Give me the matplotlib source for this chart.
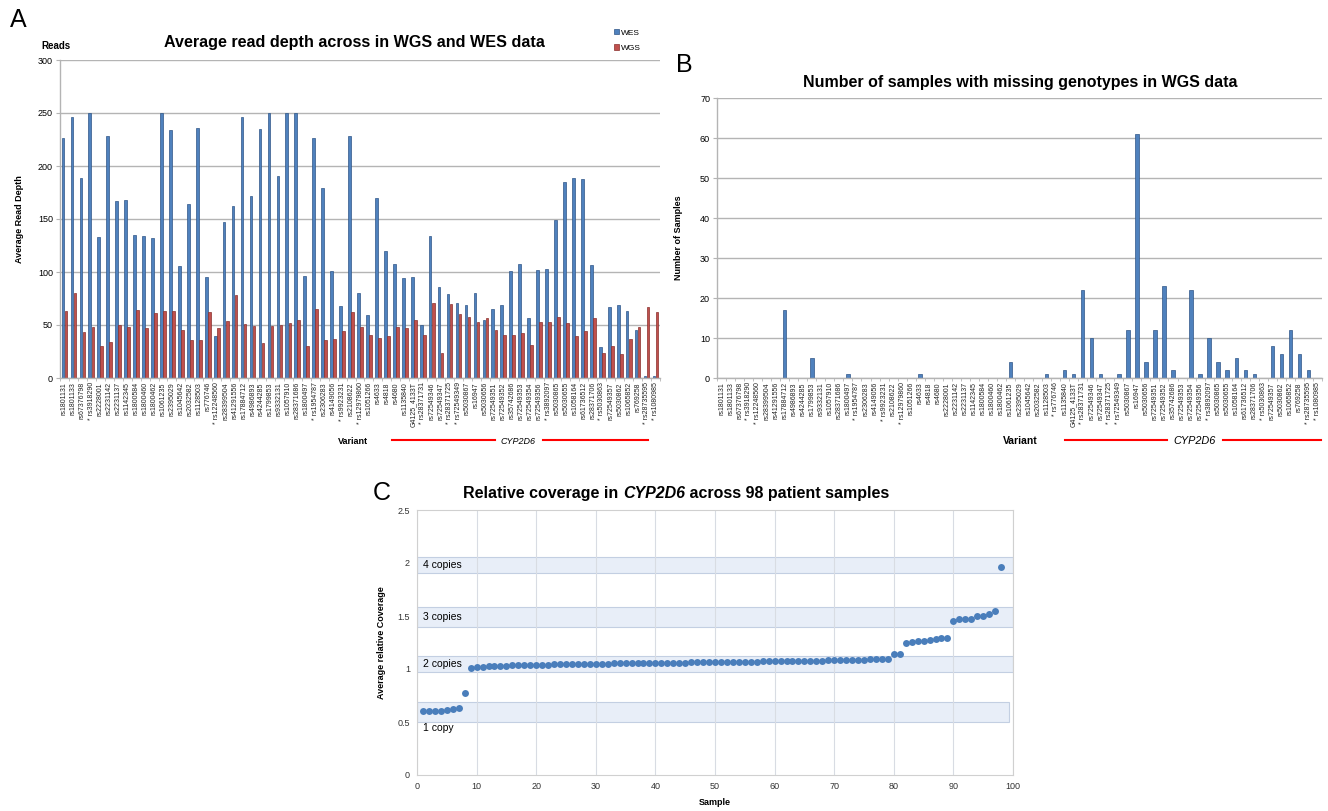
import matplotlib.pyplot as plt
from matplotlib.lines import Line2D
import numpy as np

plt.rcParams['font.family'] = ['Liberation Sans', 'DejaVu Sans']

# ---------------- Datos ----------------
# Panel A: profundidad media de lectura por variante
variantes_a = ["rs1801131", "rs1801133", "rs67376798", "* rs3918290", "rs2228001", "rs2231142",
               "rs2231137", "rs1142345", "rs1800584", "rs1800460", "rs1800462", "rs1061235",
               "rs2395029", "rs1045642", "rs2032582", "rs1128503", "rs776746", "* rs12248560",
               "rs28399504", "rs41291556", "rs17884712", "rs4986893", "rs4244285", "rs1799853",
               "rs9332131", "rs1057910", "rs28371686", "rs1800497", "* rs1954787", "rs2306283",
               "rs4149056", "* rs9923231", "rs2108622", "* rs12979860", "rs1051266", "rs4633",
               "rs4818", "rs4680", "rs1135840", "G4125_4133T", "* rs28371731", "rs72549346",
               "rs72549347", "* rs28371725", "* rs72549349", "rs5030867", "rs16947", "rs5030656",
               "rs72549351", "rs72549352", "rs35742686", "rs72549353", "rs72549354", "rs72549356",
               "* rs3892097", "rs5030865", "rs5030655", "rs1058164", "rs61736512", "rs28371706",
               "* rs5030863", "rs72549357", "rs5030862", "rs1065852", "rs769258", "* rs28735595",
               "* rs1080985"]
wes = [226, 246, 189, 250, 133, 228, 167, 168, 135, 134, 132, 250, 234, 106, 164, 236, 95, 40,
       147, 162, 246, 172, 235, 250, 191, 250, 250, 96, 226, 179, 101, 68, 228, 80, 59, 170,
       120, 108, 94, 95, 50, 134, 86, 79, 71, 69, 80, 55, 65, 69, 101, 108, 57, 102, 103, 149,
       185, 189, 188, 107, 29, 67, 69, 63, 45, 2, 1.5]
wgs = [63, 80, 43, 48, 30, 34, 50, 48, 64, 47, 61, 63, 63, 45, 36, 36, 62, 47, 54, 78, 51, 49,
       33, 49, 50, 52, 55, 30, 65, 36, 37, 44, 62, 48, 41, 38, 40, 48, 47, 55, 41, 71, 24, 70,
       60, 58, 53, 57, 45, 41, 41, 42, 31, 53, 53, 58, 52, 40, 44, 57, 24, 30, 23, 37, 48, 67, 62]

# Panel B: muestras con genotipo faltante en WGS
variantes_b = ["rs1801131", "rs1801133", "rs67376798", "* rs3918290", "* rs12248560", "rs28399504",
               "rs41291556", "rs17884712", "rs4986893", "rs4244285", "rs1799853", "rs9332131",
               "rs1057910", "rs28371686", "rs1800497", "* rs1954787", "rs2306283", "rs4149056",
               "* rs9923231", "rs2108622", "* rs12979860", "rs1051266", "rs4633", "rs4818", "rs4680",
               "rs2228001", "rs2231142", "rs2231137", "rs1142345", "rs1800584", "rs1800460",
               "rs1800462", "rs1061235", "rs2395029", "rs1045642", "rs2032582", "rs1128503",
               "* rs776746", "rs1135840", "G4125_4133T", "* rs28371731", "rs72549346", "rs72549347",
               "* rs28371725", "* rs72549349", "rs5030867", "rs16947", "rs5030656", "rs72549351",
               "rs72549352", "rs35742686", "rs72549353", "rs72549354", "rs72549356", "* rs3892097",
               "rs5030865", "rs5030655", "rs1058164", "rs61736512", "rs28371706", "* rs5030863",
               "rs72549357", "rs5030862", "rs1065852", "rs769258", "* rs28735595", "* rs1080985"]
faltantes = [0, 0, 0, 0, 0, 0, 0, 17, 0, 0, 5, 0, 0, 0, 1, 0, 0, 0, 0, 0, 0, 0, 1, 0, 0,
             0, 0, 0, 0, 0, 0, 0, 4, 0, 0, 0, 1, 0, 2, 1, 22, 10, 1, 0, 1, 12, 61, 4, 12,
             23, 2, 0, 22, 1, 10, 4, 2, 5, 2, 1, 0, 8, 6, 12, 6, 2, 0]

# Panel C: cobertura relativa de CYP2D6 en 98 pacientes
muestras = list(range(1, 99))
cobertura = [0.600, 0.601, 0.604, 0.607, 0.610, 0.620, 0.633, 0.777,
             1.013, 1.020, 1.022, 1.025, 1.028, 1.030, 1.033, 1.035, 1.036, 1.038,
             1.040, 1.040, 1.041, 1.042, 1.043, 1.044, 1.045, 1.046, 1.047, 1.048,
             1.049, 1.050, 1.050, 1.051, 1.052, 1.052, 1.053, 1.054, 1.055, 1.056,
             1.056, 1.057, 1.058, 1.058, 1.059, 1.060, 1.061, 1.062, 1.063, 1.064,
             1.064, 1.065, 1.066, 1.066, 1.067, 1.068, 1.068, 1.069, 1.070, 1.071,
             1.072, 1.072, 1.073, 1.074, 1.075, 1.076, 1.077, 1.078, 1.079, 1.080,
             1.081, 1.082, 1.083, 1.084, 1.085, 1.086, 1.088, 1.090, 1.092, 1.094,
             1.095, 1.138, 1.140,
             1.242, 1.258, 1.264, 1.267, 1.274, 1.283, 1.289, 1.289,
             1.456, 1.469, 1.472, 1.472, 1.503, 1.503, 1.522, 1.550,
             1.959]
bandas = [("4 copies", 1.909, 2.06), ("3 copies", 1.399, 1.588),
          ("2 copies", 0.975, 1.126), ("1 copy", 0.503, 0.686)]

AZUL = '#4F81BD'
AZUL_BORDE = '#2f5687'
ROJO = '#C0504D'
ROJO_BORDE = '#8a2f2c'
GRIS = '#b4b4b4'

W, H = 1328, 811
fig = plt.figure(figsize=(W / 100, H / 100), dpi=100)


def fx(px):
    return px / W


def fy(py):
    return 1 - py / H


def estilo_barras(ax, n, etiquetas):
    ax.set_xlim(-0.5, n - 0.5)
    ax.set_xticks(range(n))
    ax.set_xticklabels(etiquetas, rotation=90, fontsize=5, color='#222222')
    ax.set_xticks(np.arange(-0.5, n, 1), minor=True)
    ax.tick_params(axis='x', which='major', length=0, pad=3)
    ax.tick_params(axis='x', which='minor', length=2.5, color=GRIS)
    ax.tick_params(axis='y', length=3, color=GRIS, labelsize=6.5, pad=2)
    ax.yaxis.grid(True, color=GRIS, lw=1)
    ax.set_axisbelow(True)
    for s in ['top', 'right']:
        ax.spines[s].set_visible(False)
    for s in ['left', 'bottom']:
        ax.spines[s].set_color(GRIS)
        ax.spines[s].set_linewidth(1)


# ---------------- Panel A ----------------
axA = fig.add_axes([fx(60), fy(378), fx(600), (378 - 60) / H])
x = np.arange(len(variantes_a))
axA.bar(x - 0.17, wes, width=0.3, color=AZUL, edgecolor=AZUL_BORDE, lw=0.5, label='WES')
axA.bar(x + 0.17, wgs, width=0.3, color=ROJO, edgecolor=ROJO_BORDE, lw=0.5, label='WGS')
estilo_barras(axA, len(variantes_a), variantes_a)
axA.set_ylim(0, 300)
axA.set_yticks(range(0, 301, 50))
axA.set_ylabel('Average Read Depth', fontsize=6.5, fontweight='bold', labelpad=10)
axA.legend(loc='upper left', bbox_to_anchor=(fx(610), fy(25)), bbox_transform=fig.transFigure,
           frameon=False, fontsize=6, handlelength=0.6, handleheight=0.6, handletextpad=0.2,
           labelspacing=0.9, borderpad=0)
fig.text(fx(56), fy(46), 'Reads', fontsize=7, fontweight='bold', ha='center', va='center')
fig.text(fx(354), fy(42), 'Average read depth across in WGS and WES data', fontsize=11.6,
         fontweight='bold', ha='center', va='center')
fig.text(fx(18), fy(20), 'A', fontsize=18, ha='center', va='center')
fig.text(fx(353), fy(441), 'Variant', fontsize=6.5, fontweight='bold', ha='center', va='center')
fig.text(fx(518), fy(441), 'CYP2D6', fontsize=6.5, style='italic', ha='center', va='center')
fig.add_artist(Line2D([fx(392), fx(495)], [fy(440), fy(440)], color='red', lw=1.5))
fig.add_artist(Line2D([fx(543), fx(648)], [fy(440), fy(440)], color='red', lw=1.5))

# ---------------- Panel B ----------------
axB = fig.add_axes([fx(717), fy(378), fx(605), (378 - 98) / H])
xb = np.arange(len(variantes_b))
axB.bar(xb, faltantes, width=0.38, color=AZUL, edgecolor=AZUL_BORDE, lw=0.5)
estilo_barras(axB, len(variantes_b), variantes_b)
axB.set_ylim(0, 70)
axB.set_yticks(range(0, 71, 10))
axB.set_ylabel('Number of Samples', fontsize=6.5, fontweight='bold', labelpad=12)
fig.text(fx(1020), fy(83), 'Number of samples with missing genotypes in WGS data', fontsize=11.5,
         fontweight='bold', ha='center', va='center')
fig.text(fx(684), fy(65), 'B', fontsize=18, ha='center', va='center')
fig.text(fx(1020), fy(441), 'Variant', fontsize=7.5, fontweight='bold', ha='center', va='center')
fig.text(fx(1195), fy(441), 'CYP2D6', fontsize=7.8, style='italic', ha='center', va='center')
fig.add_artist(Line2D([fx(1065), fx(1167)], [fy(440), fy(440)], color='red', lw=1.5))
fig.add_artist(Line2D([fx(1223), fx(1321)], [fy(440), fy(440)], color='red', lw=1.5))

# ---------------- Panel C ----------------
axC = fig.add_axes([fx(417), fy(775), fx(596), (775 - 510) / H])
for nombre, lo, hi in bandas:
    xmax = 0.993 if nombre == '1 copy' else 1.0
    axC.axhspan(lo, hi, xmin=0, xmax=xmax, facecolor='#e8eef8', edgecolor='#c3cfe2', lw=0.8, zorder=1)
    if nombre == '1 copy':
        axC.text(1, lo - 0.06, nombre, fontsize=7.5, va='center', ha='left', zorder=4)
    else:
        axC.text(1, (lo + hi) / 2, nombre, fontsize=7.5, va='center', ha='left', zorder=4)
axC.plot(muestras, cobertura, 'o', color='#4a7ebb', markersize=5, markeredgewidth=0, zorder=3)
axC.set_xlim(0, 100)
axC.set_ylim(0, 2.5)
axC.set_xticks(range(0, 101, 10))
axC.set_yticks([0, 0.5, 1, 1.5, 2, 2.5])
axC.set_yticklabels(['0', '0.5', '1', '1.5', '2', '2.5'])
axC.xaxis.grid(True, color='#d8dce3', lw=0.8, zorder=0)
axC.tick_params(length=0, labelsize=6.5, pad=5, colors='#333333')
for s in axC.spines.values():
    s.set_color('#d0d0d0')
axC.set_xlabel('Sample', fontsize=6.5, fontweight='bold', labelpad=5)
axC.set_ylabel('Average relative Coverage', fontsize=6.5, fontweight='bold', labelpad=8)
fig.text(fx(382), fy(493), 'C', fontsize=18, ha='center', va='center')

# Titulo con parte en cursiva
partes = [('Relative coverage in ', 'normal'), ('CYP2D6', 'italic'),
          (' across 98 patient samples', 'normal')]
rend = fig.canvas.get_renderer()
objs = [fig.text(0, fy(498), t, fontsize=11.5, fontweight='bold', style=st, va='baseline')
        for t, st in partes]
anchos = [o.get_window_extent(rend).width for o in objs]
inicio = 676 - sum(anchos) / 2
for o, a in zip(objs, anchos):
    o.set_x(fx(inicio))
    inicio += a

fig.savefig('out.png', dpi=100)
